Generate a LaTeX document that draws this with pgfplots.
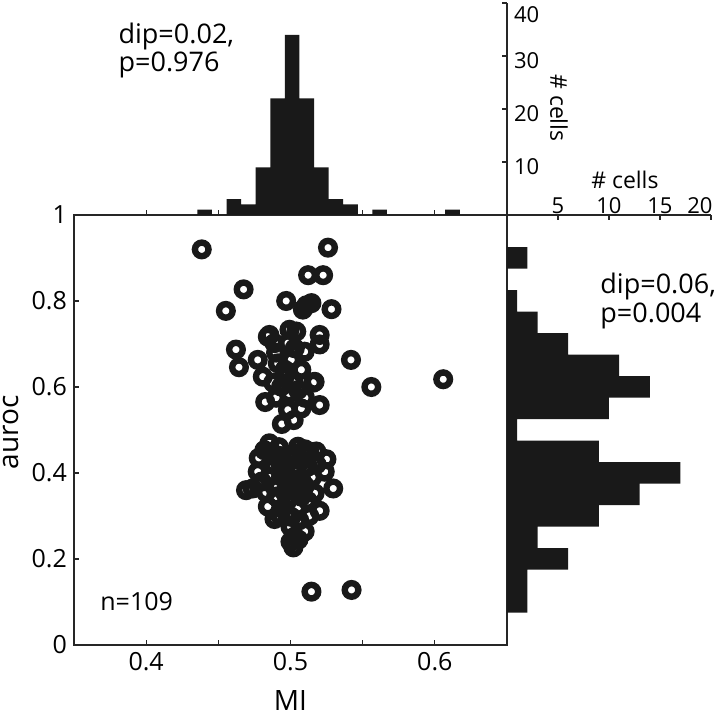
\documentclass[border=0pt]{standalone}
\usepackage{fontspec}
\setmainfont{Open Sans}
\usepackage{pgfplots}
\pgfplotsset{compat=1.18}

\begin{document}
\begin{tikzpicture}
\pgfplotsset{every axis/.append style={
    scale only axis,
    font=\fontsize{12.5}{13}\selectfont,
    /pgf/number format/assume math mode=true,
    axis line style={line width=0.6pt, black!85},
    every tick/.style={line width=0.6pt, black!85},
    major tick length=2.5pt,
    tick align=inside,
}}

% scatter
\begin{axis}[name=main,
    width=216.5pt, height=215pt,
    xmin=0.35, xmax=0.65, ymin=0, ymax=1,
    xtick={0.4,0.45,0.5,0.55,0.6}, xticklabels={0.4,,0.5,,0.6},
    ytick={0,0.2,0.4,0.6,0.8,1}, yticklabels={0,0.2,0.4,0.6,0.8,1},
    xtick pos=bottom, ytick pos=left,
    xlabel={MI}, ylabel={auroc},
    label style={font=\fontsize{14}{14}\selectfont},
    xlabel style={at={(axis description cs:0.5,-0.13)}, anchor=center},
    ylabel style={at={(axis description cs:-0.146,0.495)}, anchor=center},
]
\addplot[only marks, mark=o, black!90, mark options={line width=3.2pt, mark size=3.4pt}] coordinates {
(0.4385,0.920) (0.526,0.924) (0.5122,0.860) (0.5226,0.860) (0.4675,0.827)
(0.4552,0.777) (0.497,0.800) (0.5086,0.780) (0.5145,0.795) (0.5284,0.781)
(0.5110,0.790) (0.4622,0.687) (0.4643,0.646) (0.5419,0.663) (0.5560,0.600)
(0.6058,0.618) (0.4854,0.721) (0.4993,0.733) (0.5040,0.729) (0.5202,0.721)
(0.5202,0.699) (0.5098,0.682) (0.4982,0.702) (0.4889,0.702) (0.4773,0.663)
(0.4808,0.624) (0.5167,0.612) (0.5202,0.558) (0.4825,0.565) (0.4959,0.624)
(0.5052,0.593) (0.4912,0.655) (0.5005,0.663) (0.5075,0.640) (0.4935,0.601)
(0.4982,0.547) (0.5075,0.550) (0.4940,0.514) (0.5022,0.523) (0.4843,0.717)
(0.5157,0.610) (0.4900,0.680) (0.5030,0.690) (0.4960,0.640) (0.4880,0.610)
(0.5020,0.610) (0.4900,0.575) (0.5100,0.575) (0.4990,0.585)
(0.4854,0.469) (0.4819,0.453) (0.5052,0.461) (0.5179,0.450) (0.5249,0.432)
(0.5237,0.403) (0.5296,0.364) (0.4773,0.403) (0.4692,0.360) (0.4738,0.364)
(0.4843,0.322) (0.4889,0.293) (0.5202,0.312) (0.5167,0.353) (0.5075,0.345)
(0.5005,0.298) (0.5098,0.264) (0.5028,0.252) (0.5020,0.227) (0.5145,0.124)
(0.5423,0.128) (0.4982,0.438) (0.4935,0.392) (0.5028,0.415) (0.4889,0.368)
(0.4982,0.337) (0.5075,0.384) (0.5122,0.415) (0.4935,0.415) (0.5028,0.446)
(0.4920,0.440) (0.4850,0.390) (0.4800,0.380) (0.4900,0.345) (0.5050,0.320)
(0.5120,0.335) (0.4950,0.320) (0.5000,0.360) (0.5100,0.370) (0.5150,0.390)
(0.4960,0.400) (0.5040,0.400) (0.5080,0.430) (0.4880,0.420) (0.5000,0.275)
(0.4930,0.300) (0.5060,0.290) (0.4870,0.440) (0.5130,0.450) (0.4980,0.380)
(0.5060,0.365) (0.4960,0.355) (0.5180,0.420) (0.4830,0.355) (0.5000,0.240)
(0.4780,0.435) (0.5130,0.300) (0.5055,0.245) (0.4920,0.460) (0.5100,0.455)
};
\node[anchor=base west, inner sep=0pt, font=\fontsize{12.5}{12.5}\selectfont] at (axis cs:0.368,0.081) {n=109};
\end{axis}

% top histogram (MI)
\begin{axis}[at={(main.north west)}, anchor=south west,
    width=216.5pt, height=106pt, clip=false,
    xmin=0.35, xmax=0.65, ymin=0, ymax=40,
    axis x line*=bottom, axis y line*=right,
    xtick={0.4,0.45,0.55,0.6}, xticklabels={},
    ytick={10,20,30,40}, yticklabels={10,20,30,{}},
    yticklabel style={font=\fontsize{11}{11}\selectfont, yshift=-2.5pt},
]
\addplot[ybar interval, fill=black!90, draw=none] coordinates {
(0.4355,1) (0.4456,0) (0.4557,3) (0.4658,2) (0.4759,9) (0.4860,22)
(0.4961,34) (0.5062,22) (0.5163,9) (0.5264,3) (0.5365,2) (0.5466,0)
(0.5567,1) (0.5668,0) (0.6072,1) (0.6173,1)
};
\node[anchor=west, font=\fontsize{11}{11}\selectfont] at (axis description cs:1,0.946) {40};
\node[anchor=north west, align=left, inner sep=0pt, font=\fontsize{13.5}{11.5}\selectfont] at (axis description cs:0.102,0.906) {dip=0.02,\\p=0.976};
\node[rotate=-90, font=\fontsize{11.5}{11.5}\selectfont] at (axis description cs:1.12,0.505) {\# cells};
\end{axis}

% right histogram (auroc)
\begin{axis}[at={(main.south east)}, anchor=south west,
    width=102pt, height=215pt, clip=false,
    xmin=0, xmax=20, ymin=0, ymax=1,
    axis x line*=top, axis y line*=left,
    xtick={5,10,15,20}, xticklabels={5,10,15,{}}, ytick=\empty,
    xticklabel style={font=\fontsize{11}{11}\selectfont, yshift=-3pt},
]
\addplot[xbar interval, fill=black!90, draw=none] coordinates {
(2,0.075) (2,0.125) (6,0.175) (3,0.225) (9,0.275) (13,0.325) (17,0.375)
(9,0.425) (1,0.475) (10,0.525) (14,0.575) (11,0.625) (6,0.675) (3,0.725)
(1,0.775) (0,0.825) (2,0.875) (2,0.925)
};
\node[anchor=south, inner sep=0.333em, yshift=-3pt, font=\fontsize{11}{11}\selectfont] at (axis description cs:0.946,1) {20};
\node[anchor=north west, align=left, inner sep=0pt, font=\fontsize{13.5}{11.5}\selectfont] at (axis description cs:0.456,0.865) {dip=0.06,\\p=0.004};
\node[font=\fontsize{11.5}{11.5}\selectfont] at (axis description cs:0.578,1.081) {\# cells};
\end{axis}

\pgfresetboundingbox
\path[use as bounding box] ([xshift=-37pt,yshift=-35.5pt]main.south west) rectangle ++(360pt,358pt);
\end{tikzpicture}
\end{document}
